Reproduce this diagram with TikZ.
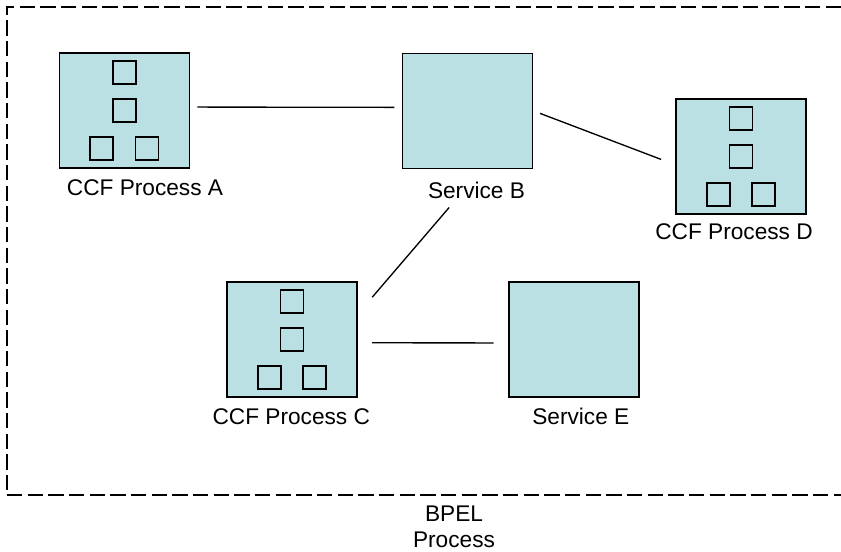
\documentclass[tikz,border=0pt]{standalone}
\usepackage{fontspec}
\setmainfont{Liberation Sans}
\definecolor{boxfill}{HTML}{BBE0E3}

\begin{document}
\begin{tikzpicture}[x=0.75pt, y=-0.75pt,
    block/.style={draw, line width=1.2pt, fill=boxfill, minimum width=97.5pt, minimum height=86.25pt, inner sep=0pt},
    task/.style={draw, line width=1.1pt, minimum size=17.25pt, inner sep=0pt},
    lbl/.style={font=\fontsize{17}{19.5}\selectfont, inner sep=0pt, anchor=base},
    link/.style={line width=1pt}]

    \useasboundingbox (0,0) rectangle (841,551);

    % BPEL process frame
	\draw[line width=1.6pt, dash pattern=on 11.5pt off 4pt] (841,7.3) -| (6.7,495.3) -- (841,495.3);

    % CCF processes and services
	\node[block] (procA) at (124.3,110.5) {};
	\node[block] (servB) at (467.5,110.8) {};
	\node[block] (procD) at (741,156.7) {};
	\node[block] (procC) at (292,339.3) {};
	\node[block] (servE) at (574,339.5) {};

    % Activities inside each CCF process
    \foreach \p in {procA,procC,procD}
        \foreach \dx/\dy [count=\i] in {0/-38, 0/0, -22.7/38, 22.7/38}
            \node[task] (\p-\i) at ([shift={(\dx,\dy)}]\p) {};

    % Labels
	\node[lbl] (labA) at (145,195.7) {CCF Process A};
	\node[lbl] (labB) at (476.5,198.3) {Service B};
	\node[lbl] (labD) at (734,239) {CCF Process D};
	\node[lbl] (labC) at (291.3,424.3) {CCF Process C};
	\node[lbl] (labE) at (580.8,424.3) {Service E};
	\node[lbl, align=center] (labBpel) at (454,547) {BPEL\\Process};

    % Links between partners
	\draw[link, shorten <=5.5pt, shorten >=5.5pt] (procA.3) -- (servB.177);
	\draw[link, shorten <=5.4pt, shorten >=11.3pt] (servB.east) -- (procD.187);
	\draw[link, shorten <=37.9pt, shorten >=16.6pt] (servB.284) -- (procC.21);
	\draw[link, shorten <=10.8pt, shorten >=11pt] (procC.-3) -- (servE.183);

\end{tikzpicture}
\end{document}
